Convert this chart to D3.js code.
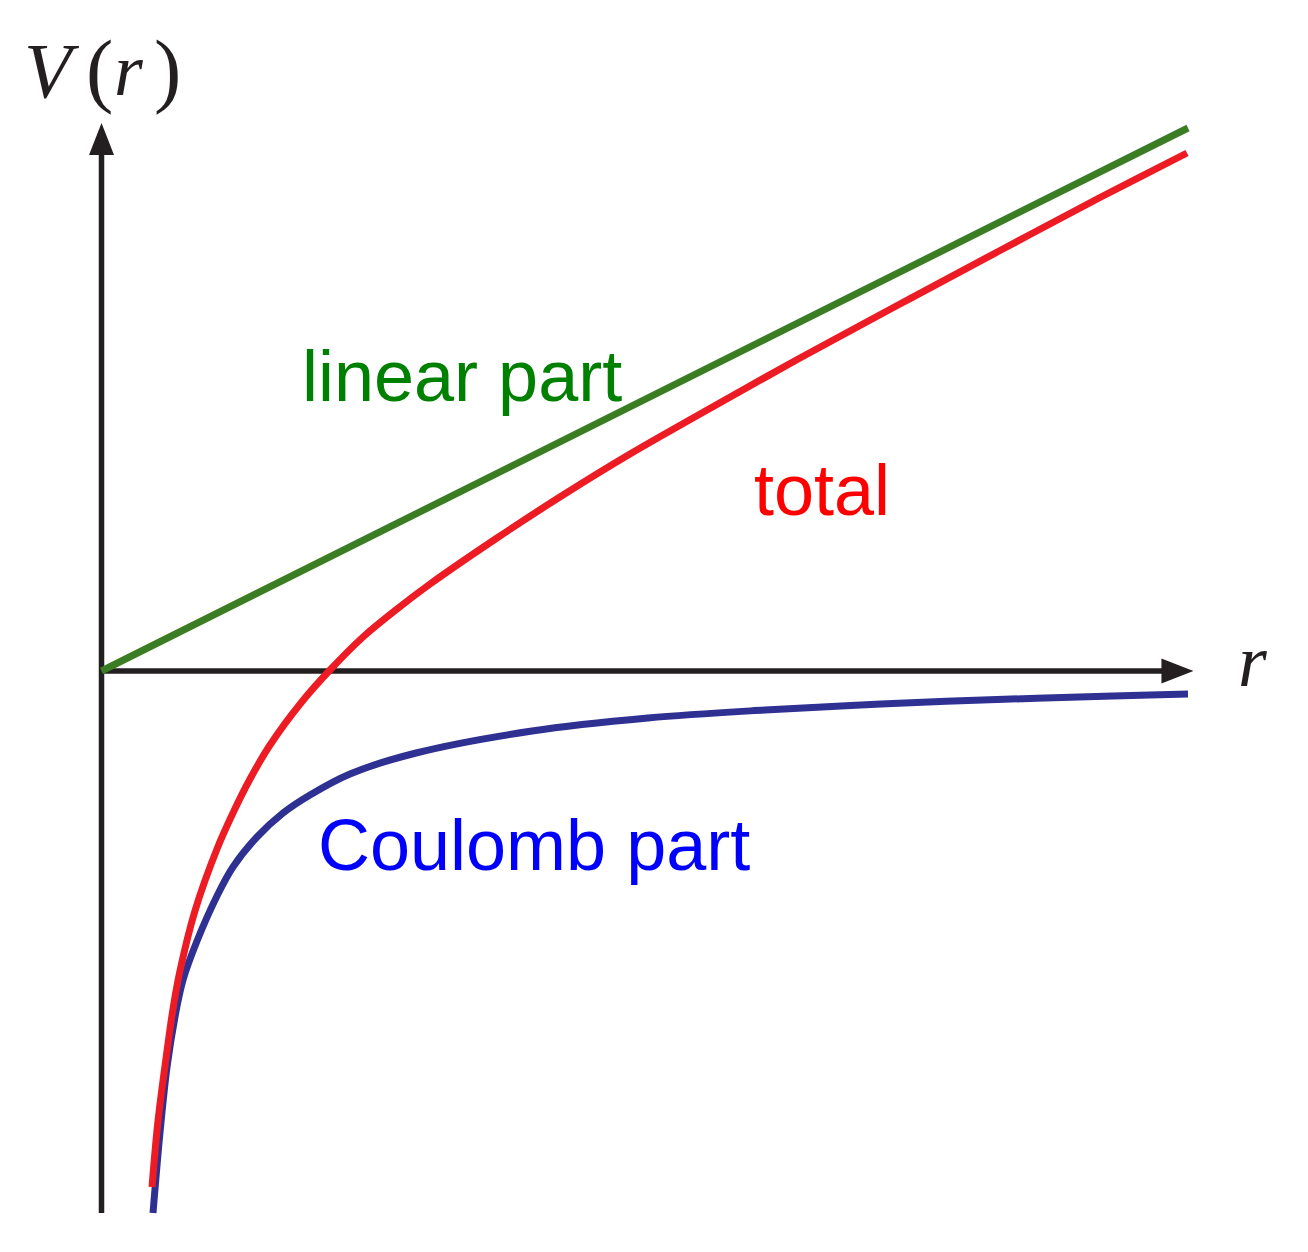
<!DOCTYPE html>
<html>
<head>
<meta charset="utf-8">
<script src="https://cdn.jsdelivr.net/npm/d3@7"></script>
<style>
  html, body { margin: 0; padding: 0; background: #ffffff; }
  svg { display: block; }
</style>
</head>
<body>
<div id="chart"></div>
<script>
// ---- data ----
const linearR = [0, 10];
const linearV = [0, 5.43];

const coulombR = [0.474, 0.538, 0.603, 0.676, 0.750, 0.879, 1.063, 1.210, 1.431, 1.671, 1.919, 2.287, 2.895, 3.962, 5.030, 6.107, 7.175, 8.242, 9.310, 10.0];
const coulombV = [-5.42, -4.62, -3.96, -3.46, -3.09, -2.70, -2.25, -1.96, -1.66, -1.42, -1.24, -1.03, -0.82, -0.60, -0.47, -0.39, -0.33, -0.285, -0.25, -0.23];

const totalR = [0.465, 0.520, 0.603, 0.658, 0.722, 0.860, 1.063, 1.210, 1.367, 1.551, 1.850, 2.103, 2.407, 2.720, 3.024, 3.640, 4.248, 4.864, 5.509, 6.429, 7.349, 8.270, 9.190, 9.991];
const totalV = [-5.16, -4.50, -3.80, -3.38, -3.00, -2.40, -1.78, -1.42, -1.08, -0.74, -0.30, 0.01, 0.34, 0.62, 0.87, 1.33, 1.76, 2.17, 2.57, 3.13, 3.67, 4.205, 4.735, 5.18];

const labelLinear = "linear part";
const labelTotal = "total";
const labelCoulomb = "Coulomb part";

// ---- layout ----
const W = 1308, H = 1252;
const svg = d3.select("#chart").append("svg")
  .attr("width", W).attr("height", H)
  .style("background", "#ffffff");

const x = d3.scaleLinear().domain([0, 10]).range([101.5, 1188]);
const y = d3.scaleLinear().domain([-5.42, 5.48]).range([1213, 123]);

const axisColor = "#231f20";
const g = svg.append("g");

// y axis
g.append("line")
  .attr("x1", x(0)).attr("x2", x(0))
  .attr("y1", y(-5.42)).attr("y2", y(5.48) + 28)
  .attr("stroke", axisColor).attr("stroke-width", 5.5);
g.append("path")
  .attr("d", `M${x(0)},${y(5.48)} L${x(0) - 12.5},${y(5.48) + 32} L${x(0) + 12.5},${y(5.48) + 32} Z`)
  .attr("fill", axisColor);

// x axis
const xTip = x(10.05);
g.append("line")
  .attr("x1", x(0) - 2.5).attr("x2", xTip - 28)
  .attr("y1", y(0)).attr("y2", y(0))
  .attr("stroke", axisColor).attr("stroke-width", 5.5);
g.append("path")
  .attr("d", `M${xTip},${y(0)} L${xTip - 32},${y(0) - 12.5} L${xTip - 32},${y(0) + 12.5} Z`)
  .attr("fill", axisColor);

// curves
const line = d3.line().x(d => x(d[0])).y(d => y(d[1])).curve(d3.curveCatmullRom.alpha(0.5));
const zip = (a, b) => a.map((v, i) => [v, b[i]]);

g.append("path").datum(zip(coulombR, coulombV))
  .attr("d", line).attr("fill", "none")
  .attr("stroke", "#2e3192").attr("stroke-width", 7);

g.append("path").datum(zip(linearR, linearV))
  .attr("d", line).attr("fill", "none")
  .attr("stroke", "#3b7d23").attr("stroke-width", 7);

g.append("path").datum(zip(totalR, totalV))
  .attr("d", line).attr("fill", "none")
  .attr("stroke", "#ed1c24").attr("stroke-width", 7);

// labels
const sans = "'Liberation Sans', Arial, Helvetica, sans-serif";
svg.append("text").text(labelLinear)
  .attr("x", 302).attr("y", 401)
  .attr("font-family", sans).attr("font-size", 72)
  .attr("fill", "#008000");
svg.append("text").text(labelTotal)
  .attr("x", 754).attr("y", 515)
  .attr("font-family", sans).attr("font-size", 72)
  .attr("fill", "#ff0000");
svg.append("text").text(labelCoulomb)
  .attr("x", 318).attr("y", 870)
  .attr("font-family", sans).attr("font-size", 72)
  .attr("fill", "#0000ff");

// axis titles (math style)
const serif = "'Liberation Serif', 'Times New Roman', serif";
const vt = svg.append("g").attr("fill", "#231f20").attr("font-family", serif);
vt.append("text").text("V")
  .attr("x", 24).attr("y", 97)
  .attr("font-size", 78).attr("font-style", "italic");
vt.append("text").text("(")
  .attr("x", 86).attr("y", 97)
  .attr("font-size", 82);
vt.append("text").text("r")
  .attr("x", 114).attr("y", 95)
  .attr("font-size", 74).attr("font-style", "italic");
vt.append("text").text(")")
  .attr("x", 154).attr("y", 97)
  .attr("font-size", 82);

svg.append("text").text("r")
  .attr("x", 1238).attr("y", 686)
  .attr("fill", "#231f20").attr("font-family", serif)
  .attr("font-size", 74).attr("font-style", "italic");
</script>
</body>
</html>
